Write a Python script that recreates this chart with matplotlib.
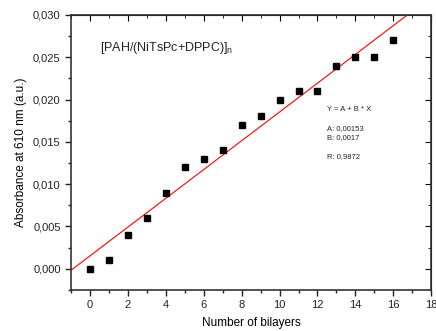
import matplotlib
matplotlib.use("Agg")
import matplotlib.pyplot as plt
from matplotlib.ticker import MultipleLocator, FuncFormatter
import numpy as np

plt.rcParams['font.family'] = ['Liberation Sans', 'DejaVu Sans']

# measured data
bilayers = [0, 1, 2, 3, 4, 5, 6, 7, 8, 9, 10, 11, 12, 13, 14, 15, 16]
absorbance = [0.000, 0.001, 0.004, 0.006, 0.009, 0.012, 0.013, 0.014, 0.017,
              0.018, 0.020, 0.021, 0.021, 0.024, 0.025, 0.025, 0.027]

# linear fit parameters
fit_a = 0.00153
fit_b = 0.0017
fit_r = 0.9872

fig = plt.figure(figsize=(4.36, 3.31), dpi=100)
ax = fig.add_axes([0.163, 0.124, 0.826, 0.831])

xfit = np.array([-1, 18])
ax.plot(xfit, fit_a + fit_b * xfit, color='red', lw=0.8)
ax.plot(bilayers, absorbance, 's', color='black', ms=4.2, clip_on=False)

ax.set_xlim(-1, 18)
ax.set_ylim(-0.0025, 0.030)
ax.xaxis.set_major_locator(MultipleLocator(2))
ax.xaxis.set_minor_locator(MultipleLocator(1))
ax.yaxis.set_major_locator(MultipleLocator(0.005))
ax.yaxis.set_minor_locator(MultipleLocator(0.0025))
ax.yaxis.set_major_formatter(FuncFormatter(lambda v, p: f"{v:.3f}".replace('.', ',').replace('-0,000', '0,000')))

ax.tick_params(which='both', direction='out', labelsize=8, colors='#222222')
ax.tick_params(which='major', length=4, width=1)
ax.tick_params(which='minor', length=2.5, width=1)
for s in ax.spines.values():
    s.set_linewidth(1.2)
    s.set_color('#333333')

# inward ticks on top and right
ax_top = ax.secondary_xaxis('top')
ax_top.xaxis.set_major_locator(MultipleLocator(2))
ax_top.xaxis.set_minor_locator(MultipleLocator(1))
ax_top.tick_params(which='both', direction='in', labeltop=False)
ax_top.tick_params(which='major', length=4)
ax_top.tick_params(which='minor', length=2.5)
ax_right = ax.secondary_yaxis('right')
ax_right.yaxis.set_major_locator(MultipleLocator(0.005))
ax_right.yaxis.set_minor_locator(MultipleLocator(0.0025))
ax_right.tick_params(which='both', direction='in', labelright=False)
ax_right.tick_params(which='major', length=4)
ax_right.tick_params(which='minor', length=2.5)

ax.set_xlabel('Number of bilayers', fontsize=8.5, labelpad=5)
ax.set_ylabel('Absorbance at 610 nm (a.u.)', fontsize=8.5)

ax.text(0.08, 0.88, r'[PAH/(NiTsPc+DPPC)]$_\mathregular{n}$', transform=ax.transAxes,
        fontsize=9, color='#222222', va='center')

fit_txt = (f"Y = A + B * X\n\nA: {str(fit_a).replace('.', ',')}\n"
           f"B: {str(fit_b).replace('.', ',')}\n\nR: {str(fit_r).replace('.', ',')}")
ax.text(0.71, 0.67, fit_txt, transform=ax.transAxes, fontsize=5.5,
        va='top', linespacing=1.5, color='#222222')

fig.savefig('out.png', dpi=100)
